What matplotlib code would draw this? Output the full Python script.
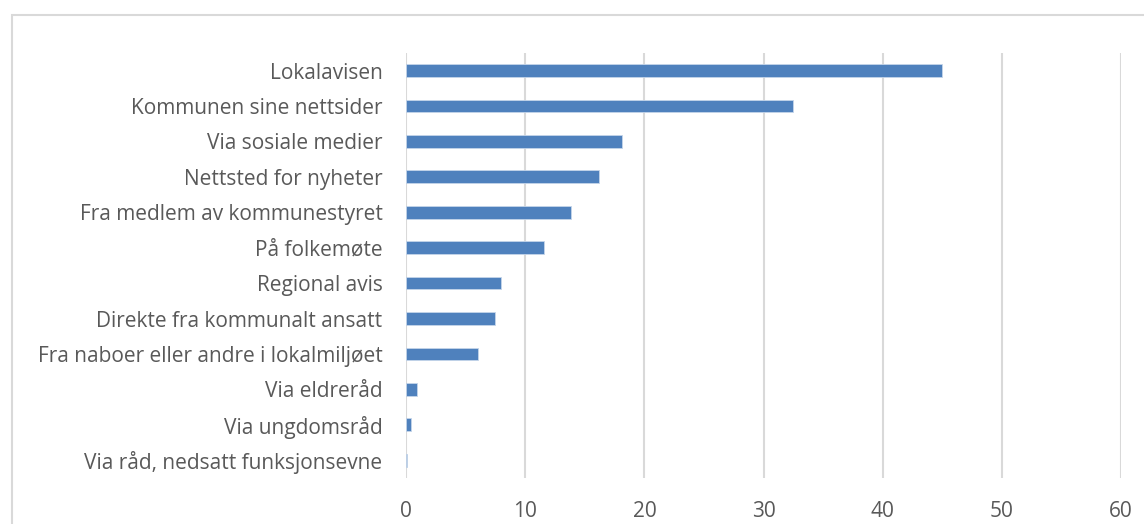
import matplotlib.pyplot as plt
from matplotlib.patches import Rectangle

plt.rcParams['font.family'] = ['Open Sans', 'DejaVu Sans']

categories = ['Lokalavisen', 'Kommunen sine nettsider', 'Via sosiale medier',
              'Nettsted for nyheter', 'Fra medlem av kommunestyret', 'På folkemøte',
              'Regional avis', 'Direkte fra kommunalt ansatt',
              'Fra naboer eller andre i lokalmiljøet', 'Via eldreråd',
              'Via ungdomsråd', 'Via råd, nedsatt funksjonsevne']
values = [45, 32.5, 18.1, 16.2, 13.8, 11.6, 8.0, 7.5, 6.0, 0.9, 0.4, 0.05]
xticks = [0, 10, 20, 30, 40, 50, 60]

fig = plt.figure(figsize=(11.44, 5.24), dpi=100)
ax = fig.add_axes([0.355, 0.088, 0.625, 0.811])

ypos = list(range(len(categories)))
ax.barh(ypos, values, height=0.36, color='#4f81bd', edgecolor='#c5d5ea', linewidth=0.6, zorder=3)

ax.set_xlim(0, 60)
ax.set_ylim(len(categories) - 0.5, -0.5)
ax.set_xticks(xticks)
ax.set_yticks(ypos)
ax.set_yticklabels(categories)
ax.tick_params(axis='both', length=0, colors='#595959', labelsize=15)
ax.tick_params(axis='y', pad=17)
ax.tick_params(axis='x', pad=17)
ax.grid(axis='x', color='#d9d9d9', linewidth=1.5, zorder=0)
for s in ax.spines.values():
    s.set_visible(False)

# chart border
fig.add_artist(Rectangle((12 / 1144, -0.1), 1.2, (1 - 15 / 524) + 0.1,
                         transform=fig.transFigure, fill=False,
                         edgecolor='#d9d9d9', linewidth=1.5))

fig.savefig('out.png', dpi=100)
